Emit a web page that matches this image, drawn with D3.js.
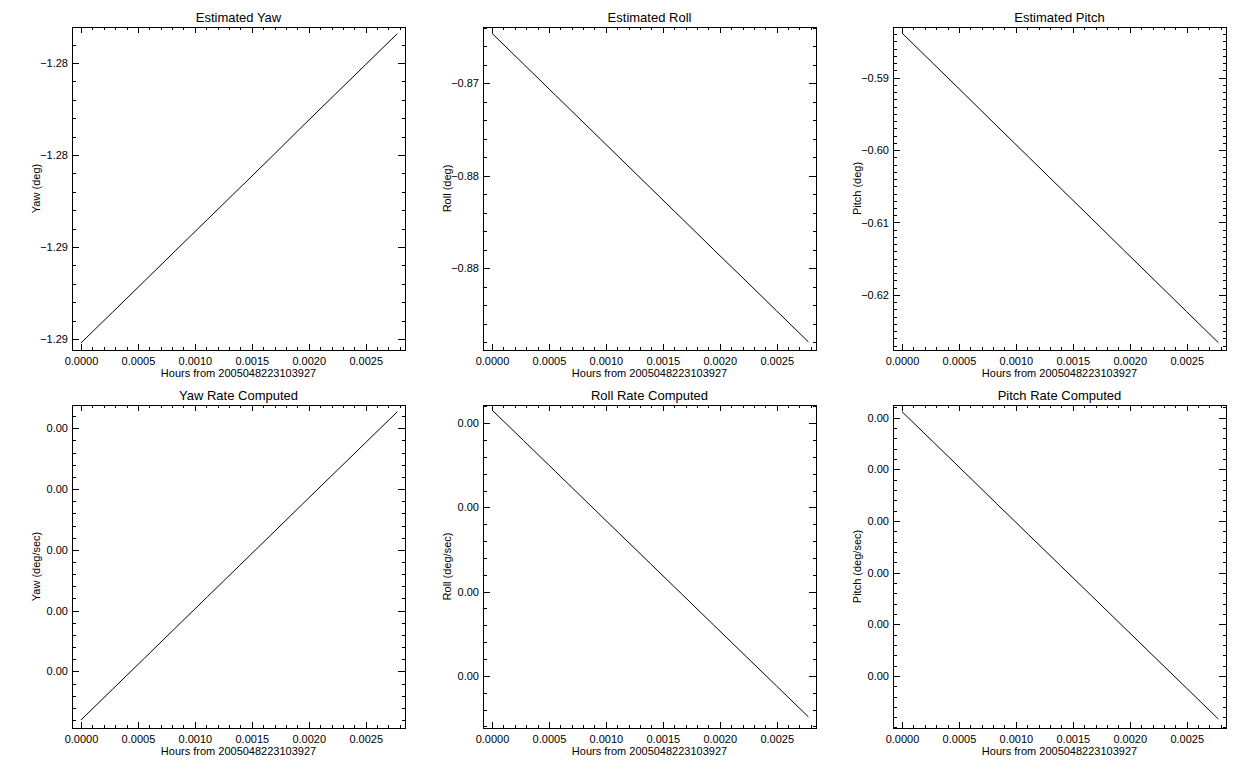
<!DOCTYPE html>
<html>
<head>
<meta charset="utf-8">
<script src="https://cdn.jsdelivr.net/npm/d3@7"></script>
<style>
  html, body { margin: 0; padding: 0; background: #fff; }
  svg { display: block; }
  text { font-family: "Liberation Sans", Arial, sans-serif; fill: #000; }
</style>
</head>
<body>
<svg id="chart" width="1250" height="775"></svg>
<script>
// ---------------- DATA ----------------
const hours = [0, 0.000278, 0.000556, 0.000833, 0.001111, 0.001389, 0.001667, 0.001944, 0.002222, 0.002500, 0.002778];

const yawDeg   = [-1.28761, -1.28677, -1.28593, -1.28509, -1.28425, -1.28341, -1.28257, -1.28172, -1.28088, -1.28004, -1.27920];
const rollDeg  = [-0.86730, -0.86897, -0.87064, -0.87230, -0.87397, -0.87564, -0.87731, -0.87898, -0.88064, -0.88231, -0.88398];
const pitchDeg = [-0.58386, -0.58813, -0.59240, -0.59668, -0.60095, -0.60522, -0.60949, -0.61376, -0.61804, -0.62231, -0.62658];

const yawRate   = [0.0007202, 0.0007709, 0.0008216, 0.0008723, 0.0009230, 0.0009737, 0.0010244, 0.0010751, 0.0011258, 0.0011765, 0.0012272];
const rollRate  = [0.00091576, 0.00087931, 0.00084287, 0.00080642, 0.00076997, 0.00073353, 0.00069708, 0.00066064, 0.00062419, 0.00058775, 0.00055130];
const pitchRate = [0.0020116, 0.0019521, 0.0018926, 0.0018330, 0.0017735, 0.0017140, 0.0016545, 0.0015950, 0.0015354, 0.0014759, 0.0014164];

const xTicks = [0, 0.0005, 0.0010, 0.0015, 0.0020, 0.0025];
const xTickLabels = ["0.0000", "0.0005", "0.0010", "0.0015", "0.0020", "0.0025"];
const xMinorStep = 0.0001;
const xDomain = [-0.000079, 0.002845];
const xTitle = "Hours from 2005048223103927";

const yawTicks = [-1.2800, -1.2825, -1.2850, -1.2875];
const yawTickLabels = ["\u22121.28", "\u22121.28", "\u22121.29", "\u22121.29"];
const rollTicks = [-0.870, -0.875, -0.880];
const rollTickLabels = ["\u22120.87", "\u22120.88", "\u22120.88"];
const pitchTicks = [-0.59, -0.60, -0.61, -0.62];
const pitchTickLabels = ["\u22120.59", "\u22120.60", "\u22120.61", "\u22120.62"];
const yawRateTicks = [0.0012, 0.0011, 0.0010, 0.0009, 0.0008];
const rollRateTicks = [0.0009, 0.0008, 0.0007, 0.0006];
const pitchRateTicks = [0.0020, 0.0019, 0.0018, 0.0017, 0.0016, 0.0015];

const titles = ["Estimated Yaw", "Estimated Roll", "Estimated Pitch", "Yaw Rate Computed", "Roll Rate Computed", "Pitch Rate Computed"];
const yTitles = ["Yaw (deg)", "Roll (deg)", "Pitch (deg)", "Yaw (deg/sec)", "Roll (deg/sec)", "Pitch (deg/sec)"];

// ---------------- PANELS ----------------
const fmt2 = d3.format(".2f");
const panels = [
  { title: titles[0], ytitle: yTitles[0], y: yawDeg,   yDomain: [-1.28780, -1.27902], ticks: yawTicks,   labels: yawTickLabels,   minorDiv: 5 },
  { title: titles[1], ytitle: yTitles[1], y: rollDeg,  yDomain: [-0.88442, -0.86696], ticks: rollTicks,  labels: rollTickLabels,  minorDiv: 5 },
  { title: titles[2], ytitle: yTitles[2], y: pitchDeg, yDomain: [-0.62759, -0.58303], ticks: pitchTicks, labels: pitchTickLabels, minorDiv: 10 },
  { title: titles[3], ytitle: yTitles[3], y: yawRate,   yDomain: [0.0007070, 0.0012382], ticks: yawRateTicks,   labels: yawRateTicks.map(fmt2),   minorDiv: 5 },
  { title: titles[4], ytitle: yTitles[4], y: rollRate,  yDomain: [0.00053803, 0.00092168], ticks: rollRateTicks, labels: rollRateTicks.map(fmt2), minorDiv: 5 },
  { title: titles[5], ytitle: yTitles[5], y: pitchRate, yDomain: [0.0013990, 0.0020245], ticks: pitchRateTicks, labels: pitchRateTicks.map(fmt2), minorDiv: 5 }
];

const colLeft = [72, 483, 893];
const rowTop = [27, 405];
const pw = 333, ph = 323;

const svg = d3.select("#chart");

function minorValues(domain, majors, step) {
  const out = [];
  const lo = Math.min(domain[0], domain[1]), hi = Math.max(domain[0], domain[1]);
  const base = majors[0];
  const nlo = Math.ceil((lo - base) / step - 1e-9), nhi = Math.floor((hi - base) / step + 1e-9);
  for (let k = nlo; k <= nhi; k++) out.push(base + k * step);
  return out;
}

panels.forEach((p, i) => {
  const left = colLeft[i % 3], top = rowTop[Math.floor(i / 3)];
  const g = svg.append("g").attr("transform", `translate(${left},${top})`);
  const x = d3.scaleLinear().domain(xDomain).range([0, pw]);
  const y = d3.scaleLinear().domain(p.yDomain).range([ph, 0]);

  // y major step
  const yStep = Math.abs(p.ticks[1] - p.ticks[0]);
  const yMinor = minorValues(p.yDomain, p.ticks, yStep / p.minorDiv);
  const xMinor = minorValues(xDomain, xTicks, xMinorStep);

  const labelMap = new Map(xTicks.map((t, k) => [t, xTickLabels[k]]));
  const yLabelMap = new Map(p.ticks.map((t, k) => [t, p.labels[k]]));

  const styleAxis = sel => {
    sel.select(".domain").remove();
    sel.selectAll("line").attr("stroke", "#000").attr("stroke-width", 1).attr("shape-rendering", "crispEdges");
    sel.selectAll("text").style("font-size", "11px").style("font-family", "'Liberation Sans', Arial, sans-serif");
  };

  // bottom axis
  g.append("g").attr("transform", `translate(0,${ph})`)
    .call(d3.axisBottom(x).tickValues(xMinor).tickSize(-3).tickFormat(""))
    .call(styleAxis);
  g.append("g").attr("transform", `translate(0,${ph})`)
    .call(d3.axisBottom(x).tickValues(xTicks).tickSize(-6).tickPadding(7).tickFormat(d => labelMap.get(d)))
    .call(styleAxis);
  // top axis
  g.append("g")
    .call(d3.axisTop(x).tickValues(xMinor).tickSize(-3).tickFormat(""))
    .call(styleAxis);
  g.append("g")
    .call(d3.axisTop(x).tickValues(xTicks).tickSize(-6).tickFormat(""))
    .call(styleAxis);
  // left axis
  g.append("g")
    .call(d3.axisLeft(y).tickValues(yMinor).tickSize(-3.5).tickFormat(""))
    .call(styleAxis);
  g.append("g")
    .call(d3.axisLeft(y).tickValues(p.ticks).tickSize(-7).tickPadding(4).tickFormat(d => yLabelMap.get(d)))
    .call(styleAxis);
  // right axis
  g.append("g").attr("transform", `translate(${pw},0)`)
    .call(d3.axisRight(y).tickValues(yMinor).tickSize(-3.5).tickFormat(""))
    .call(styleAxis);
  g.append("g").attr("transform", `translate(${pw},0)`)
    .call(d3.axisRight(y).tickValues(p.ticks).tickSize(-7).tickFormat(""))
    .call(styleAxis);

  // frame
  g.append("rect").attr("x", 0.5).attr("y", 0.5).attr("width", pw).attr("height", ph)
    .attr("fill", "none").attr("stroke", "#000").attr("stroke-width", 1).attr("shape-rendering", "crispEdges");

  // line
  const line = d3.line().x((d, k) => x(hours[k])).y(d => y(d));
  g.append("path").datum(p.y).attr("d", line)
    .attr("fill", "none").attr("stroke", "#000").attr("stroke-width", 1);

  // titles
  g.append("text").attr("x", pw / 2).attr("y", -5)
    .attr("text-anchor", "middle").style("font-size", "13px").text(p.title);
  g.append("text").attr("x", pw / 2).attr("y", ph + 27)
    .attr("text-anchor", "middle").style("font-size", "11px").text(xTitle);
  g.append("text")
    .attr("transform", `translate(${-32},${ph / 2}) rotate(-90)`)
    .attr("text-anchor", "middle").style("font-size", "11px").text(p.ytitle);
});
</script>
</body>
</html>
